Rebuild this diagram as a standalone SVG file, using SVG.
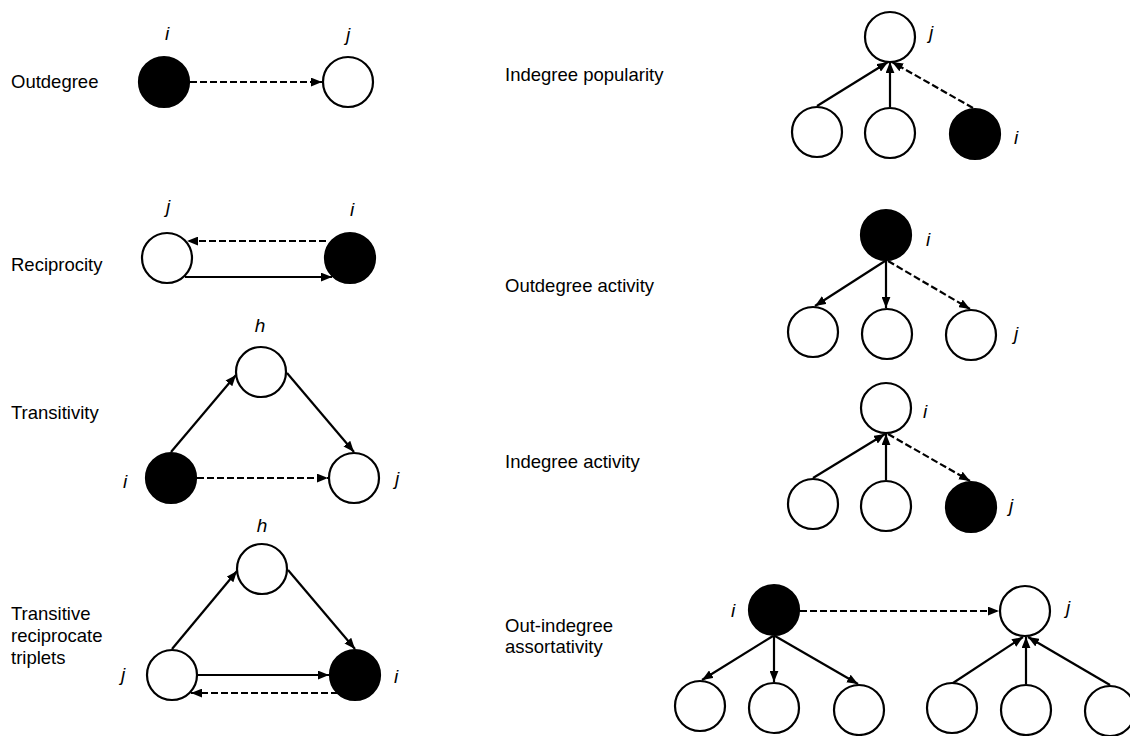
<svg xmlns="http://www.w3.org/2000/svg" width="1130" height="736" viewBox="0 0 1130 736">
<style>
.lbl{font-family:"Liberation Sans",Arial,sans-serif;font-size:18.5px;fill:#000}
.nm{font-family:"Liberation Sans",Arial,sans-serif;font-size:19px;font-style:italic;fill:#000;text-anchor:middle}
.w{fill:#fff;stroke:#000;stroke-width:2.2}
.b{fill:#000;stroke:#000;stroke-width:2.2}
.e{fill:none;stroke:#000;stroke-width:2.2;marker-end:url(#ah)}
.d{fill:none;stroke:#000;stroke-width:2.2;stroke-dasharray:7,3;marker-end:url(#ah)}
</style>
<defs>
<marker id="ah" markerUnits="userSpaceOnUse" viewBox="0 0 10 8" refX="10" refY="4" markerWidth="11" markerHeight="9" orient="auto">
<path d="M0,0 L10,4 L0,8 z" fill="#000"/>
</marker>
</defs>
<rect width="1130" height="736" fill="#fff"/>

<g id="titles">
<text class="lbl" x="11" y="88">Outdegree</text>
<text class="lbl" x="11" y="271">Reciprocity</text>
<text class="lbl" x="11" y="419">Transitivity</text>
<text class="lbl" x="11" y="620">Transitive</text>
<text class="lbl" x="11" y="642">reciprocate</text>
<text class="lbl" x="11" y="664">triplets</text>
<text class="lbl" x="505" y="81">Indegree popularity</text>
<text class="lbl" x="505" y="292">Outdegree activity</text>
<text class="lbl" x="505" y="468">Indegree activity</text>
<text class="lbl" x="505" y="632">Out-indegree</text>
<text class="lbl" x="505" y="653">assortativity</text>
</g>

<g id="connectors">
<line class="d" x1="190" y1="82" x2="322" y2="82"/>
<line class="d" x1="326" y1="241" x2="187" y2="241"/>
<line class="e" x1="185" y1="277" x2="332" y2="277"/>
<line class="e" x1="171" y1="452" x2="236" y2="375"/>
<line class="e" x1="287" y1="373" x2="354" y2="452"/>
<line class="d" x1="197" y1="478" x2="328" y2="478"/>
<line class="e" x1="172" y1="649" x2="237" y2="571"/>
<line class="e" x1="288" y1="570" x2="355" y2="649"/>
<line class="e" x1="198" y1="675" x2="329" y2="675"/>
<line class="d" x1="338" y1="693" x2="191" y2="693"/>
<line class="e" x1="817" y1="106" x2="888" y2="62"/>
<line class="e" x1="890" y1="107" x2="890" y2="62"/>
<line class="d" x1="973" y1="108" x2="892" y2="62"/>
<line class="e" x1="885" y1="261" x2="815" y2="306"/>
<line class="e" x1="886" y1="261" x2="886" y2="308"/>
<line class="d" x1="888" y1="261" x2="970" y2="309"/>
<line class="e" x1="813" y1="478" x2="885" y2="434"/>
<line class="e" x1="886" y1="480" x2="886" y2="434"/>
<line class="d" x1="888" y1="434" x2="970" y2="481"/>
<line class="d" x1="800" y1="611" x2="999" y2="611"/>
<line class="e" x1="773" y1="636" x2="702" y2="680"/>
<line class="e" x1="774" y1="636" x2="774" y2="682"/>
<line class="e" x1="775" y1="636" x2="858" y2="684"/>
<line class="e" x1="953" y1="683" x2="1023" y2="637"/>
<line class="e" x1="1026" y1="684" x2="1026" y2="637"/>
<line class="e" x1="1110" y1="685" x2="1028" y2="637"/>
</g>

<g id="outdegree">
<g id="od-i"><circle class="b" cx="164" cy="82" r="25"/><text class="nm" x="167" y="40">i</text></g>
<g id="od-j"><circle class="w" cx="348" cy="82" r="25"/><text class="nm" x="348" y="41">j</text></g>
</g>

<g id="reciprocity">
<g id="rc-j"><circle class="w" cx="167" cy="258" r="25"/><text class="nm" x="168" y="213">j</text></g>
<g id="rc-i"><circle class="b" cx="350" cy="258" r="25"/><text class="nm" x="352" y="216">i</text></g>
</g>

<g id="transitivity">
<g id="tr-h"><circle class="w" cx="261" cy="372" r="25"/><text class="nm" x="260" y="332">h</text></g>
<g id="tr-i"><circle class="b" cx="171" cy="478" r="25"/><text class="nm" x="125" y="488">i</text></g>
<g id="tr-j"><circle class="w" cx="354" cy="478" r="25"/><text class="nm" x="397" y="485">j</text></g>
</g>

<g id="triplets">
<g id="tt-h"><circle class="w" cx="262" cy="569" r="25"/><text class="nm" x="262" y="532">h</text></g>
<g id="tt-j"><circle class="w" cx="172" cy="675" r="25"/><text class="nm" x="123" y="681">j</text></g>
<g id="tt-i"><circle class="b" cx="355" cy="675" r="25"/><text class="nm" x="396" y="683">i</text></g>
</g>

<g id="indegree-popularity">
<g id="ip-j"><circle class="w" cx="890" cy="37" r="25"/><text class="nm" x="931" y="39">j</text></g>
<g id="ip-a"><circle class="w" cx="817" cy="132" r="25"/></g>
<g id="ip-b"><circle class="w" cx="890" cy="133" r="25"/></g>
<g id="ip-i"><circle class="b" cx="975" cy="134" r="25"/><text class="nm" x="1016" y="144">i</text></g>
</g>

<g id="outdegree-activity">
<g id="oa-i"><circle class="b" cx="886" cy="235" r="25"/><text class="nm" x="928" y="246">i</text></g>
<g id="oa-a"><circle class="w" cx="813" cy="332" r="25"/></g>
<g id="oa-b"><circle class="w" cx="887" cy="334" r="25"/></g>
<g id="oa-j"><circle class="w" cx="971" cy="335" r="25"/><text class="nm" x="1016" y="340">j</text></g>
</g>

<g id="indegree-activity">
<g id="ia-i"><circle class="w" cx="886" cy="408" r="25"/><text class="nm" x="925" y="418">i</text></g>
<g id="ia-a"><circle class="w" cx="813" cy="504" r="25"/></g>
<g id="ia-b"><circle class="w" cx="886" cy="506" r="25"/></g>
<g id="ia-j"><circle class="b" cx="971" cy="507" r="25"/><text class="nm" x="1011" y="512">j</text></g>
</g>

<g id="assortativity">
<g id="as-i"><circle class="b" cx="774" cy="610" r="25"/><text class="nm" x="733" y="617">i</text></g>
<g id="as-j"><circle class="w" cx="1025" cy="611" r="25"/><text class="nm" x="1068" y="614">j</text></g>
<g id="as-a"><circle class="w" cx="700" cy="706" r="25"/></g>
<g id="as-b"><circle class="w" cx="774" cy="708" r="25"/></g>
<g id="as-c"><circle class="w" cx="859" cy="710" r="25"/></g>
<g id="as-d"><circle class="w" cx="952" cy="708" r="25"/></g>
<g id="as-e"><circle class="w" cx="1026" cy="710" r="25"/></g>
<g id="as-f"><circle class="w" cx="1110" cy="711" r="25"/></g>
</g>
</svg>
